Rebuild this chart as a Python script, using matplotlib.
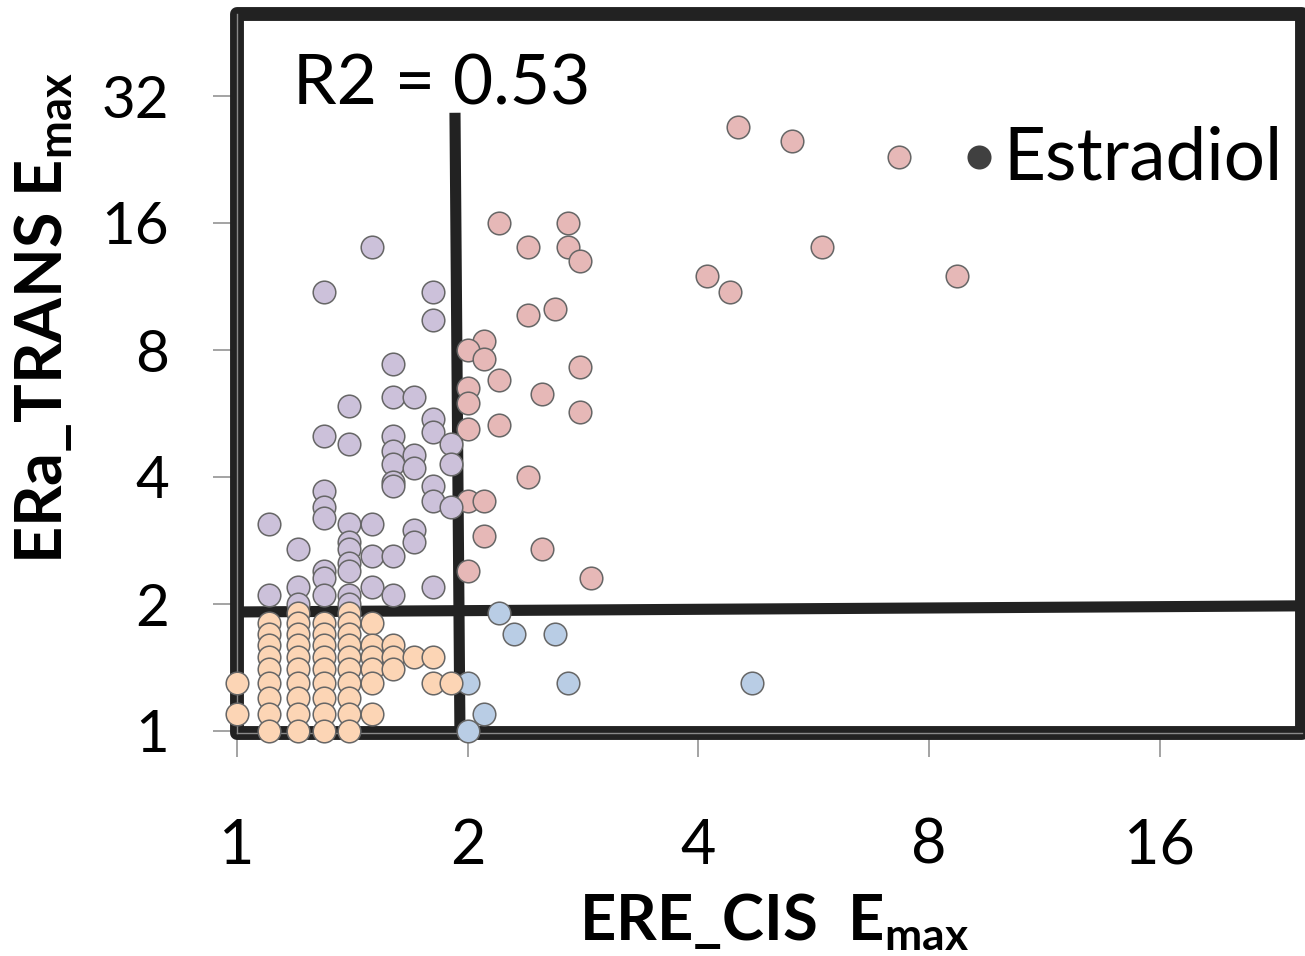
import matplotlib
matplotlib.use("Agg")
import matplotlib.pyplot as plt
from matplotlib.patches import Rectangle
from matplotlib.ticker import FixedLocator, FixedFormatter, NullLocator

plt.rcParams['font.family'] = ['Lato', 'DejaVu Sans']
plt.rcParams['mathtext.fontset'] = 'custom'
plt.rcParams['mathtext.rm'] = 'Lato'

# ---------------- data ----------------
pink_x = [4.5, 5.3, 7.3, 5.8, 4.1, 4.4, 8.7,
          2.2, 2.7, 2.4, 2.7, 2.8,
          2.4, 2.6,
          2.1, 2.0, 2.1, 2.2, 2.8,
          2.0, 2.0, 2.5, 2.8,
          2.0, 2.2,
          2.4,
          2.0, 2.1,
          2.1, 2.5,
          2.0, 2.9]
pink_y = [27, 25, 23, 14, 12, 11, 12,
          16, 16, 14, 14, 13,
          9.7, 10,
          8.4, 8.0, 7.6, 6.8, 7.3,
          6.5, 6.0, 6.3, 5.7,
          5.2, 5.3,
          4.0,
          3.5, 3.5,
          2.9, 2.7,
          2.4, 2.3]

blue_x = [2.2, 2.3, 2.6, 2.0, 2.7, 4.7, 2.1, 2.0]
blue_y = [1.9, 1.7, 1.7, 1.3, 1.3, 1.3, 1.1, 1.0]

purple_x = [1.5, 1.3, 1.8, 1.8, 1.6, 1.6, 1.7, 1.4, 1.8, 1.8,
            1.9, 1.3, 1.4, 1.6, 1.6, 1.7, 1.6, 1.7, 1.9, 1.6,
            1.6, 1.8, 1.8, 1.9, 1.3, 1.3, 1.3, 1.1, 1.4, 1.5,
            1.7, 1.7, 1.4, 1.4, 1.2, 1.5, 1.6, 1.4, 1.4, 1.3,
            1.3, 1.3, 1.2, 1.2, 1.1, 1.4, 1.4, 1.5, 1.6, 1.8]
purple_y = [14.0, 11.0, 11.0, 9.4, 7.4, 6.2, 6.2, 5.9, 5.5, 5.1,
            4.8, 5.0, 4.8, 5.0, 4.6, 4.5, 4.3, 4.2, 4.3, 3.9,
            3.8, 3.8, 3.5, 3.4, 3.7, 3.4, 3.2, 3.1, 3.1, 3.1,
            3.0, 2.8, 2.8, 2.7, 2.7, 2.6, 2.6, 2.5, 2.4, 2.4,
            2.3, 2.1, 2.2, 2.0, 2.1, 2.1, 2.0, 2.2, 2.1, 2.2]

orange_x = ([1.0] * 2 + [1.1] * 9 + [1.2] * 10 + [1.3] * 9 + [1.4] * 10
            + [1.5] * 6 + [1.6] * 3 + [1.7] + [1.8] * 2 + [1.9])
orange_y = ([1.3, 1.1]
            + [1.8, 1.7, 1.6, 1.5, 1.4, 1.3, 1.2, 1.1, 1.0]
            + [1.9, 1.8, 1.7, 1.6, 1.5, 1.4, 1.3, 1.2, 1.1, 1.0]
            + [1.8, 1.7, 1.6, 1.5, 1.4, 1.3, 1.2, 1.1, 1.0]
            + [1.9, 1.8, 1.7, 1.6, 1.5, 1.4, 1.3, 1.2, 1.1, 1.0]
            + [1.8, 1.6, 1.5, 1.4, 1.3, 1.1]
            + [1.6, 1.5, 1.4]
            + [1.5]
            + [1.5, 1.3]
            + [1.3])

estradiol_x = [9.3]
estradiol_y = [23]

# threshold guide lines (drawn shapes)
hline_x = [1.0, 24.5]
hline_y = [1.915, 1.98]
vline_x = [1.925, 1.954]
vline_y = [29.2, 0.99]

x_ticks = [1, 2, 4, 8, 16]
x_tick_labels = ['1', '2', '4', '8', '16']
y_ticks = [1, 2, 4, 8, 16, 32]
y_tick_labels = ['1', '2', '4', '8', '16', '32']

r2_text = 'R2 = 0.53'
legend_text = 'Estradiol'
x_label = r'ERE_CIS  E$_{\mathregular{max}}$'
y_label = r'ERa_TRANS E$_{\mathregular{max}}$'

# ---------------- figure ----------------
W, H = 1305, 956
fig = plt.figure(figsize=(W / 100, H / 100), dpi=100)
ax = fig.add_axes([237 / W, (H - 733) / H, 1065 / W, 719 / H])
ax.set_xscale('log', base=2)
ax.set_yscale('log', base=2)
ax.set_xlim(1, 2 ** (1065 / 230.7))
ax.set_ylim(2 ** (-2 / 127), 2 ** (717 / 127))

for s in ['top', 'right']:
    ax.spines[s].set_visible(False)
for s in ['left', 'bottom']:
    ax.spines[s].set_color('#8a8a8a')
    ax.spines[s].set_linewidth(1.0)
    ax.spines[s].set_zorder(2.3)

frame = Rectangle((0, 0), 1, 1, transform=ax.transAxes, fill=False,
                  lw=10, ec='#222222', joinstyle='round', clip_on=False, zorder=2.1)
ax.add_patch(frame)

ax.plot(hline_x, hline_y, color='#222222', lw=8, solid_capstyle='butt', zorder=2.2, clip_on=False)
ax.plot(vline_x, vline_y, color='#222222', lw=8, solid_capstyle='butt', zorder=2.2, clip_on=False)

ax.xaxis.set_major_locator(FixedLocator(x_ticks))
ax.xaxis.set_major_formatter(FixedFormatter(x_tick_labels))
ax.yaxis.set_major_locator(FixedLocator(y_ticks))
ax.yaxis.set_major_formatter(FixedFormatter(y_tick_labels))
ax.xaxis.set_minor_locator(NullLocator())
ax.yaxis.set_minor_locator(NullLocator())
ax.tick_params(axis='both', which='major', direction='out', length=17,
               width=1.1, color='#8a8a8a')
ax.tick_params(axis='x', labelsize=44, pad=44)
ax.tick_params(axis='y', labelsize=42, pad=32)

mk = dict(s=265, edgecolors='#666666', linewidths=1.1, clip_on=False)
ax.scatter(pink_x, pink_y, c='#E6B8B7', zorder=4, **mk)
ax.scatter(blue_x, blue_y, c='#B9CDE5', zorder=5, **mk)
ax.scatter(purple_x, purple_y, c='#CCC1DA', zorder=6, **mk)
ax.scatter(orange_x, orange_y, c='#FCD5B5', zorder=7, **mk)
ax.scatter(estradiol_x, estradiol_y, c='#404040', s=300, linewidths=0, zorder=8, clip_on=False)

fig.text(293 / W, 1 - 105 / H, r2_text, fontsize=50, ha='left', va='baseline', color='black')
fig.text(1003 / W, 1 - 180 / H, legend_text, fontsize=52.5, ha='left', va='baseline', color='black')
fig.text(774 / W, 1 - 940 / H, x_label, fontsize=45.5, fontweight='bold', ha='center', va='baseline')
fig.text(44 / W, 1 - 318 / H, y_label, fontsize=46.5, fontweight='bold', rotation=90,
         ha='center', va='center')

fig.savefig('out.png', dpi=100)
